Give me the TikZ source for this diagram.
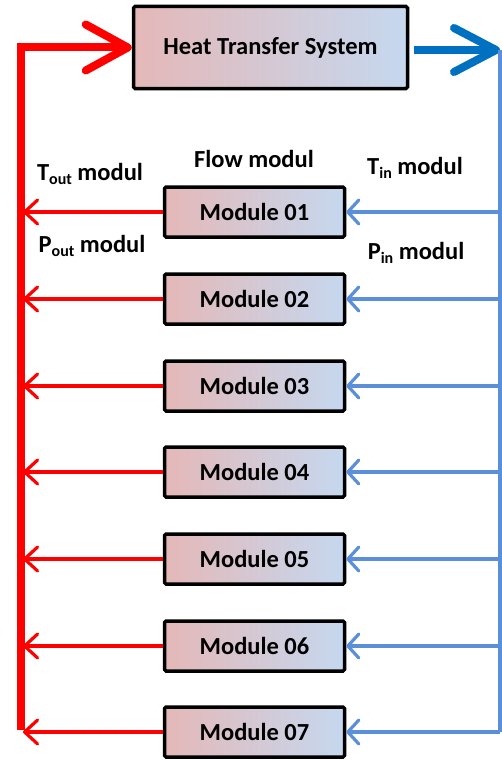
\documentclass[tikz,border=0pt]{standalone}
\usepackage{fontspec}
\setmainfont{Carlito}
\usetikzlibrary{arrows.meta}
\definecolor{redline}{HTML}{FF0000}
\definecolor{bluethick}{HTML}{0070C0}
\definecolor{bluethin}{HTML}{5B8FD8}
\definecolor{gleft}{HTML}{E4B8B8}
\definecolor{gright}{HTML}{C5D8EF}
\newcommand{\sbs}[1]{\raisebox{-0.3ex}{\fontsize{16}{16}\selectfont #1}}
\begin{document}
\begin{tikzpicture}[x=1pt,y=-1pt,
  box/.style={draw=black,line width=3.5pt,rounded corners=1.5pt,left color=gleft,right color=gright,
    inner sep=0pt,font=\fontsize{24.5}{26}\selectfont\bfseries},
  modbox/.style={box,minimum width=180pt,minimum height=50pt},
  lbl/.style={font=\fontsize{24.5}{26}\selectfont\bfseries,inner sep=0pt},
  redthick/.style={draw=redline,line width=8pt},
  redthin/.style={draw=redline,line width=3.2pt},
  bluethickl/.style={draw=bluethick,line width=8pt},
  bluethinl/.style={draw=bluethin,line width=3.2pt},
  bigred/.style={-{Straight Barb[length=42pt,width=46pt,line cap=round,line join=round]}},
  bigblue/.style={-{Straight Barb[length=42pt,width=44pt,line cap=round,line join=round]}},
  smallred/.style={-{Straight Barb[length=13pt,width=24pt,line cap=round,line join=round]}},
  smallblue/.style={-{Straight Barb[length=11pt,width=24pt,line cap=round,line join=round]}}]
\useasboundingbox (0,0) rectangle (502,760);
\node[box,minimum width=274pt,minimum height=82pt] (hts) at (270.5,47.5) {Heat Transfer System};
\foreach \i/\y in {1/212,2/299,3/386,4/472,5/559,6/646,7/732}{
  \node[modbox] (m\i) at (254.5,\y) {Module 0\i};
}
\node[lbl] (flow) at (254,159) {Flow modul};
\node[lbl] (tout) at (90,174) {T\sbs{out} modul};
\node[lbl] (pout) at (92,246) {P\sbs{out} modul};
\node[lbl] (tin) at (415,168) {T\sbs{in} modul};
\node[lbl] (pin) at (416,253) {P\sbs{in} modul};
\coordinate (redbot) at (21,730);
\coordinate (bluetop) at (500,50);
\coordinate (bluebot) at (500,732);
% red return rail
\draw[redthick,bigred] (redbot) |- (hts.west);
% blue supply
\draw[bluethickl,bigblue,shorten <=5pt] (hts.east |- bluetop) -- (bluetop);
\draw[bluethinl] (bluetop) -- (bluebot);
\foreach \i in {1,...,7}{
  \coordinate (rr\i) at (m\i.west -| 23,0);
  \coordinate (bb\i) at (m\i.east -| bluetop);
  \draw[redthin,smallred] (m\i.west) -- (rr\i);
  \draw[bluethinl,smallblue] (bb\i) -- (m\i.east);
}
\end{tikzpicture}
\end{document}
